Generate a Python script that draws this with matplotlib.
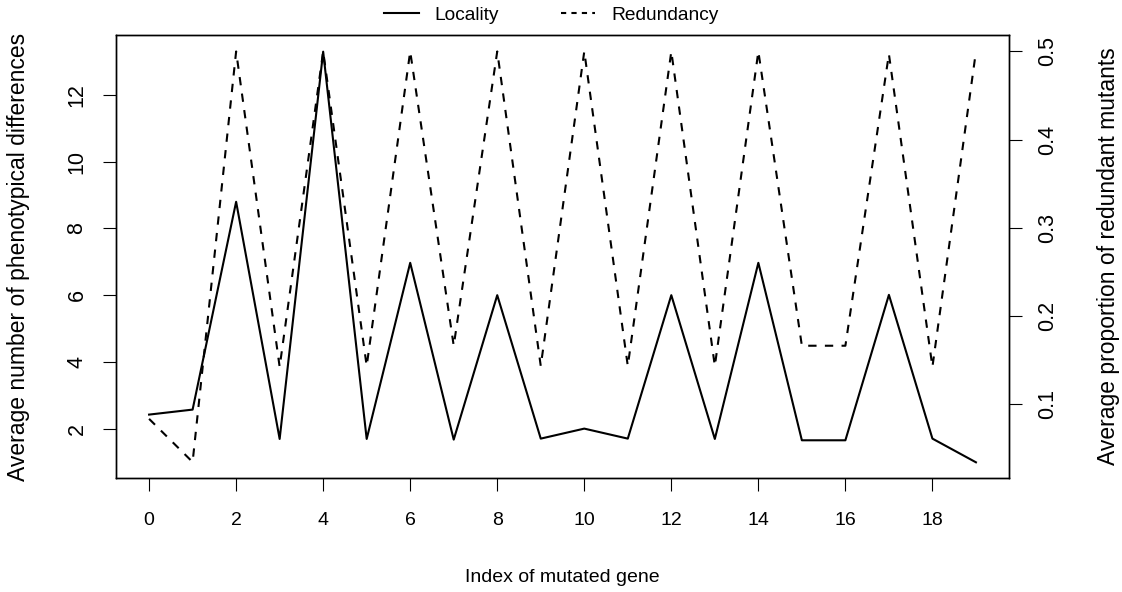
import matplotlib
matplotlib.use("Agg")
import matplotlib.pyplot as plt
from matplotlib.lines import Line2D

plt.rcParams["font.family"] = ["Liberation Sans", "DejaVu Sans"]

# index of the mutated gene
genes = list(range(20))

# average number of phenotypical differences (left axis)
locality = [2.42, 2.57, 8.80, 1.69, 13.30, 1.69, 6.97, 1.67, 6.00, 1.70,
            2.00, 1.70, 6.00, 1.69, 6.97, 1.65, 1.65, 6.01, 1.70, 0.99]

# average proportion of redundant mutants (right axis)
redundancy = [0.083, 0.034, 0.500, 0.142, 0.500, 0.143, 0.500, 0.166, 0.500, 0.143,
              0.500, 0.143, 0.500, 0.143, 0.500, 0.166, 0.166, 0.497, 0.142, 0.500]

x_ticks = list(range(0, 19, 2))
left_ticks = [2, 4, 6, 8, 10, 12]
right_ticks = [0.1, 0.2, 0.3, 0.4, 0.5]

fig = plt.figure(figsize=(11.22, 5.92), dpi=100)
ax = fig.add_axes([0.1034, 0.1926, 0.7959, 0.7483])
ax2 = ax.twinx()

l1, = ax.plot(genes, locality, color="black", lw=1.5, label="Locality")
l2, = ax2.plot(genes, redundancy, color="black", lw=1.5, dashes=(4, 4),
               label="Redundancy")

ax.set_xlim(-0.76, 19.76)
ax.set_ylim(0.52, 13.8)
ax2.set_ylim(0.0159, 0.5187)

ax.set_xticks(x_ticks)
ax.set_yticks(left_ticks)
ax2.set_yticks(right_ticks)
ax2.set_yticklabels([f"{t:.1f}" for t in right_ticks])

for a in (ax, ax2):
    for s in a.spines.values():
        s.set_linewidth(1.0)

ax.tick_params(axis="x", length=9.5, width=0.8, pad=15, labelsize=14)
ax.tick_params(axis="y", length=9.5, width=0.8, pad=11, labelsize=15.5,
               labelrotation=90)
ax2.tick_params(axis="y", length=9.5, width=0.8, pad=11, labelsize=15.5,
                labelrotation=90)
for t in ax.get_yticklabels() + ax2.get_yticklabels():
    t.set_va("center")

ax.set_xlabel("Index of mutated gene", fontsize=14, va="center")
ax.xaxis.set_label_coords(0.5, -0.2257)
ax.set_ylabel("Average number of phenotypical differences", fontsize=16.5,
              va="center")
ax.yaxis.set_label_coords(-0.1097, 0.5)
ax2.set_ylabel("Average proportion of redundant mutants", fontsize=16.5,
               va="center")
ax2.yaxis.set_label_coords(1.111, 0.5)

# legend key for the dashed series uses shorter dashes, as in the original
h2 = Line2D([], [], color="black", lw=1.5, dashes=(2.5, 2.5))
fig.legend(handles=[l1, h2], labels=["Locality", "Redundancy"],
           loc="center", bbox_to_anchor=(0.4915, 0.974),
           ncol=2, frameon=False, fontsize=13.8, handlelength=1.8,
           columnspacing=3.2, handletextpad=0.83)

fig.savefig("out.png", dpi=100)
